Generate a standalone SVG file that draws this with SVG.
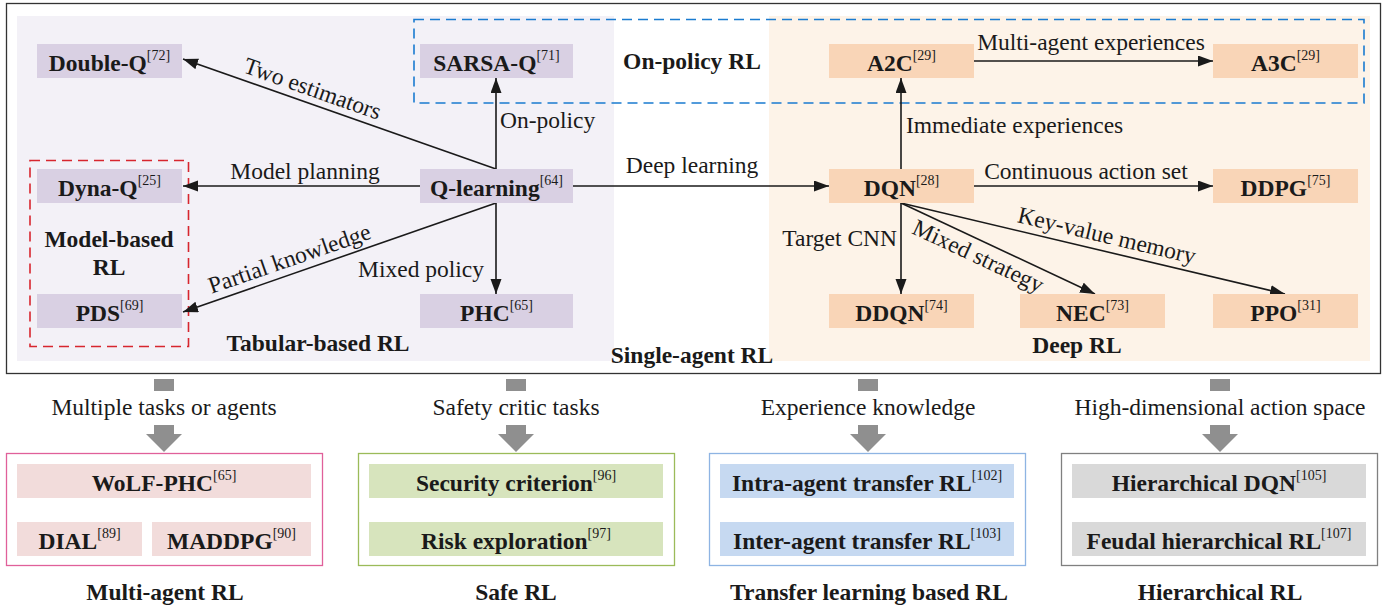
<svg xmlns="http://www.w3.org/2000/svg" width="1393" height="610" viewBox="0 0 1393 610">
  <style>
    text { font-family: "Liberation Serif", "Times New Roman", serif; font-size: 23.5px; fill: #1a1a1a; }
    .b { font-weight: bold; }
    .m { text-anchor: middle; }
    .e { text-anchor: end; }
    .sup { font-size: 14px; font-weight: normal; }
    .lav { fill: #d9d0e3; }
    .pch { fill: #f9d5b7; }
    .pnk { fill: #f2dcdb; }
    .grn { fill: #d7e4bd; }
    .blu { fill: #c6d9f1; }
    .gry { fill: #d9d9d9; }
    .edge { stroke: #1a1a1a; stroke-width: 1.6; fill: none; marker-end: url(#ah); }
    .blk { fill: #8f8f8f; }
  </style>
  <defs>
    <marker id="ah" markerUnits="userSpaceOnUse" markerWidth="16" markerHeight="12" refX="15" refY="5.5" orient="auto">
      <path d="M0,0 L15,5.5 L0,11 Z" fill="#1a1a1a"/>
    </marker>
    <!-- thick grey down arrow used between the panels -->
    <g id="down">
      <rect x="-10" y="379" width="20" height="12" class="blk"/>
      <path d="M-10,425 H10 V434 H18 L0,452 L-18,434 H-10 Z" class="blk"/>
    </g>
  </defs>

  <rect width="1393" height="610" fill="#ffffff"/>

  <!-- single-agent panel -->
  <g id="single-agent">
    <rect x="6.5" y="3.5" width="1374" height="370" fill="#ffffff" stroke="#333333" stroke-width="1.3"/>
    <rect x="17" y="16" width="597" height="345" fill="#f3f1f7"/>
    <rect x="769" y="16" width="601" height="345" fill="#fdf3e8"/>
    <rect x="414" y="19.5" width="950" height="83.5" fill="none" stroke="#1a7bd0" stroke-width="1.6" stroke-dasharray="10 6"/>
    <rect x="30" y="160.5" width="158.5" height="186" fill="none" stroke="#d7262e" stroke-width="1.6" stroke-dasharray="10 6"/>
    <text class="b m" x="692" y="69">On-policy RL</text>
    <text class="b m" x="109" y="247">Model-based</text>
    <text class="b m" x="109" y="275">RL</text>
    <text class="b m" x="318" y="351">Tabular-based RL</text>
    <text class="b m" x="692" y="363">Single-agent RL</text>
    <text class="b m" x="1077" y="353">Deep RL</text>
  </g>

  <!-- connectors -->
  <g id="connectors">
    <line class="edge" x1="496" y1="169" x2="183" y2="59"/>
    <line class="edge" x1="496" y1="169" x2="496" y2="78"/>
    <line class="edge" x1="420" y1="186" x2="183" y2="186"/>
    <line class="edge" x1="496" y1="203" x2="183" y2="312"/>
    <line class="edge" x1="496" y1="203" x2="496" y2="294"/>
    <line class="edge" x1="573" y1="186" x2="829" y2="186"/>
    <line class="edge" x1="901" y1="169" x2="901" y2="78"/>
    <line class="edge" x1="974" y1="61" x2="1213" y2="61"/>
    <line class="edge" x1="974" y1="186" x2="1213" y2="186"/>
    <line class="edge" x1="901" y1="203" x2="901" y2="294"/>
    <line class="edge" x1="901" y1="203" x2="1095" y2="294"/>
    <line class="edge" x1="901" y1="203" x2="1285" y2="294"/>

    <text transform="translate(310,96) rotate(19.4)" class="m">Two estimators</text>
    <text x="500" y="128">On-policy</text>
    <text class="m" x="305" y="179">Model planning</text>
    <text transform="translate(292,266) rotate(-19.1)" class="m">Partial knowledge</text>
    <text class="e" x="484" y="277">Mixed policy</text>
    <text class="m" x="692" y="173">Deep learning</text>
    <text class="m" x="1091" y="50">Multi-agent experiences</text>
    <text x="906" y="133">Immediate experiences</text>
    <text class="m" x="1086" y="179">Continuous action set</text>
    <text class="e" x="897" y="246">Target CNN</text>
    <text transform="translate(975,263) rotate(25.1)" class="m">Mixed strategy</text>
    <text transform="translate(1105,243) rotate(13.3)" class="m">Key-value memory</text>
  </g>

  <!-- tabular nodes -->
  <g id="double-q"><rect class="lav" x="37" y="44" width="145" height="34"/><text class="b m" x="109.5" y="71">Double-Q<tspan class="sup" dy="-11">[72]</tspan></text></g>
  <g id="sarsa-q"><rect class="lav" x="420" y="44" width="153" height="34"/><text class="b m" x="496.5" y="71">SARSA-Q<tspan class="sup" dy="-11">[71]</tspan></text></g>
  <g id="q-learning"><rect class="lav" x="420" y="169" width="153" height="34"/><text class="b m" x="496.5" y="196">Q-learning<tspan class="sup" dy="-11">[64]</tspan></text></g>
  <g id="dyna-q"><rect class="lav" x="37" y="169" width="145" height="34"/><text class="b m" x="109.5" y="196">Dyna-Q<tspan class="sup" dy="-11">[25]</tspan></text></g>
  <g id="pds"><rect class="lav" x="37" y="294" width="145" height="34"/><text class="b m" x="109.5" y="321">PDS<tspan class="sup" dy="-11">[69]</tspan></text></g>
  <g id="phc"><rect class="lav" x="420" y="294" width="153" height="34"/><text class="b m" x="496.5" y="321">PHC<tspan class="sup" dy="-11">[65]</tspan></text></g>

  <!-- deep nodes -->
  <g id="a2c"><rect class="pch" x="829" y="44" width="145" height="34"/><text class="b m" x="901.5" y="71">A2C<tspan class="sup" dy="-11">[29]</tspan></text></g>
  <g id="a3c"><rect class="pch" x="1213" y="44" width="145" height="34"/><text class="b m" x="1285.5" y="71">A3C<tspan class="sup" dy="-11">[29]</tspan></text></g>
  <g id="dqn"><rect class="pch" x="829" y="169" width="145" height="34"/><text class="b m" x="901.5" y="196">DQN<tspan class="sup" dy="-11">[28]</tspan></text></g>
  <g id="ddpg"><rect class="pch" x="1213" y="169" width="145" height="34"/><text class="b m" x="1285.5" y="196">DDPG<tspan class="sup" dy="-11">[75]</tspan></text></g>
  <g id="ddqn"><rect class="pch" x="829" y="294" width="145" height="34"/><text class="b m" x="901.5" y="321">DDQN<tspan class="sup" dy="-11">[74]</tspan></text></g>
  <g id="nec"><rect class="pch" x="1020" y="294" width="145" height="34"/><text class="b m" x="1092.5" y="321">NEC<tspan class="sup" dy="-11">[73]</tspan></text></g>
  <g id="ppo"><rect class="pch" x="1213" y="294" width="145" height="34"/><text class="b m" x="1285.5" y="321">PPO<tspan class="sup" dy="-11">[31]</tspan></text></g>

  <!-- extensions -->
  <g id="multi-agent">
    <use href="#down" x="164"/>
    <text class="m" x="164" y="415">Multiple tasks or agents</text>
    <rect x="6.5" y="453.5" width="316" height="112" fill="#ffffff" stroke="#e0609a" stroke-width="1.3"/>
    <rect class="pnk" x="17" y="464" width="294" height="34"/>
    <text class="b m" x="164" y="491">WoLF-PHC<tspan class="sup" dy="-11">[65]</tspan></text>
    <rect class="pnk" x="17" y="522" width="125" height="34"/>
    <text class="b m" x="79.5" y="549">DIAL<tspan class="sup" dy="-11">[89]</tspan></text>
    <rect class="pnk" x="152" y="522" width="159" height="34"/>
    <text class="b m" x="231.5" y="549">MADDPG<tspan class="sup" dy="-11">[90]</tspan></text>
    <text class="b m" x="165" y="600">Multi-agent RL</text>
  </g>

  <g id="safe">
    <use href="#down" x="516"/>
    <text class="m" x="516" y="415">Safety critic tasks</text>
    <rect x="358.5" y="453.5" width="316" height="112" fill="#ffffff" stroke="#9bbb59" stroke-width="1.3"/>
    <rect class="grn" x="369" y="464" width="294" height="34"/>
    <text class="b m" x="516" y="491">Security criterion<tspan class="sup" dy="-11">[96]</tspan></text>
    <rect class="grn" x="369" y="522" width="294" height="34"/>
    <text class="b m" x="516" y="549">Risk exploration<tspan class="sup" dy="-11">[97]</tspan></text>
    <text class="b m" x="516" y="600">Safe RL</text>
  </g>

  <g id="transfer">
    <use href="#down" x="868"/>
    <text class="m" x="868" y="415">Experience knowledge</text>
    <rect x="709.5" y="453.5" width="316" height="112" fill="#ffffff" stroke="#8eb4e3" stroke-width="1.3"/>
    <rect class="blu" x="720" y="464" width="294" height="34"/>
    <text class="b m" x="867" y="491">Intra-agent transfer RL<tspan class="sup" dy="-11">[102]</tspan></text>
    <rect class="blu" x="720" y="522" width="294" height="34"/>
    <text class="b m" x="867" y="549">Inter-agent transfer RL<tspan class="sup" dy="-11">[103]</tspan></text>
    <text class="b m" x="869" y="600">Transfer learning based RL</text>
  </g>

  <g id="hierarchical">
    <use href="#down" x="1220"/>
    <text class="m" x="1220" y="415">High-dimensional action space</text>
    <rect x="1061.5" y="453.5" width="316" height="112" fill="#ffffff" stroke="#808080" stroke-width="1.3"/>
    <rect class="gry" x="1072" y="464" width="294" height="34"/>
    <text class="b m" x="1219" y="491">Hierarchical DQN<tspan class="sup" dy="-11">[105]</tspan></text>
    <rect class="gry" x="1072" y="522" width="294" height="34"/>
    <text class="b m" x="1219" y="549">Feudal hierarchical RL<tspan class="sup" dy="-11">[107]</tspan></text>
    <text class="b m" x="1220" y="600">Hierarchical RL</text>
  </g>
</svg>
